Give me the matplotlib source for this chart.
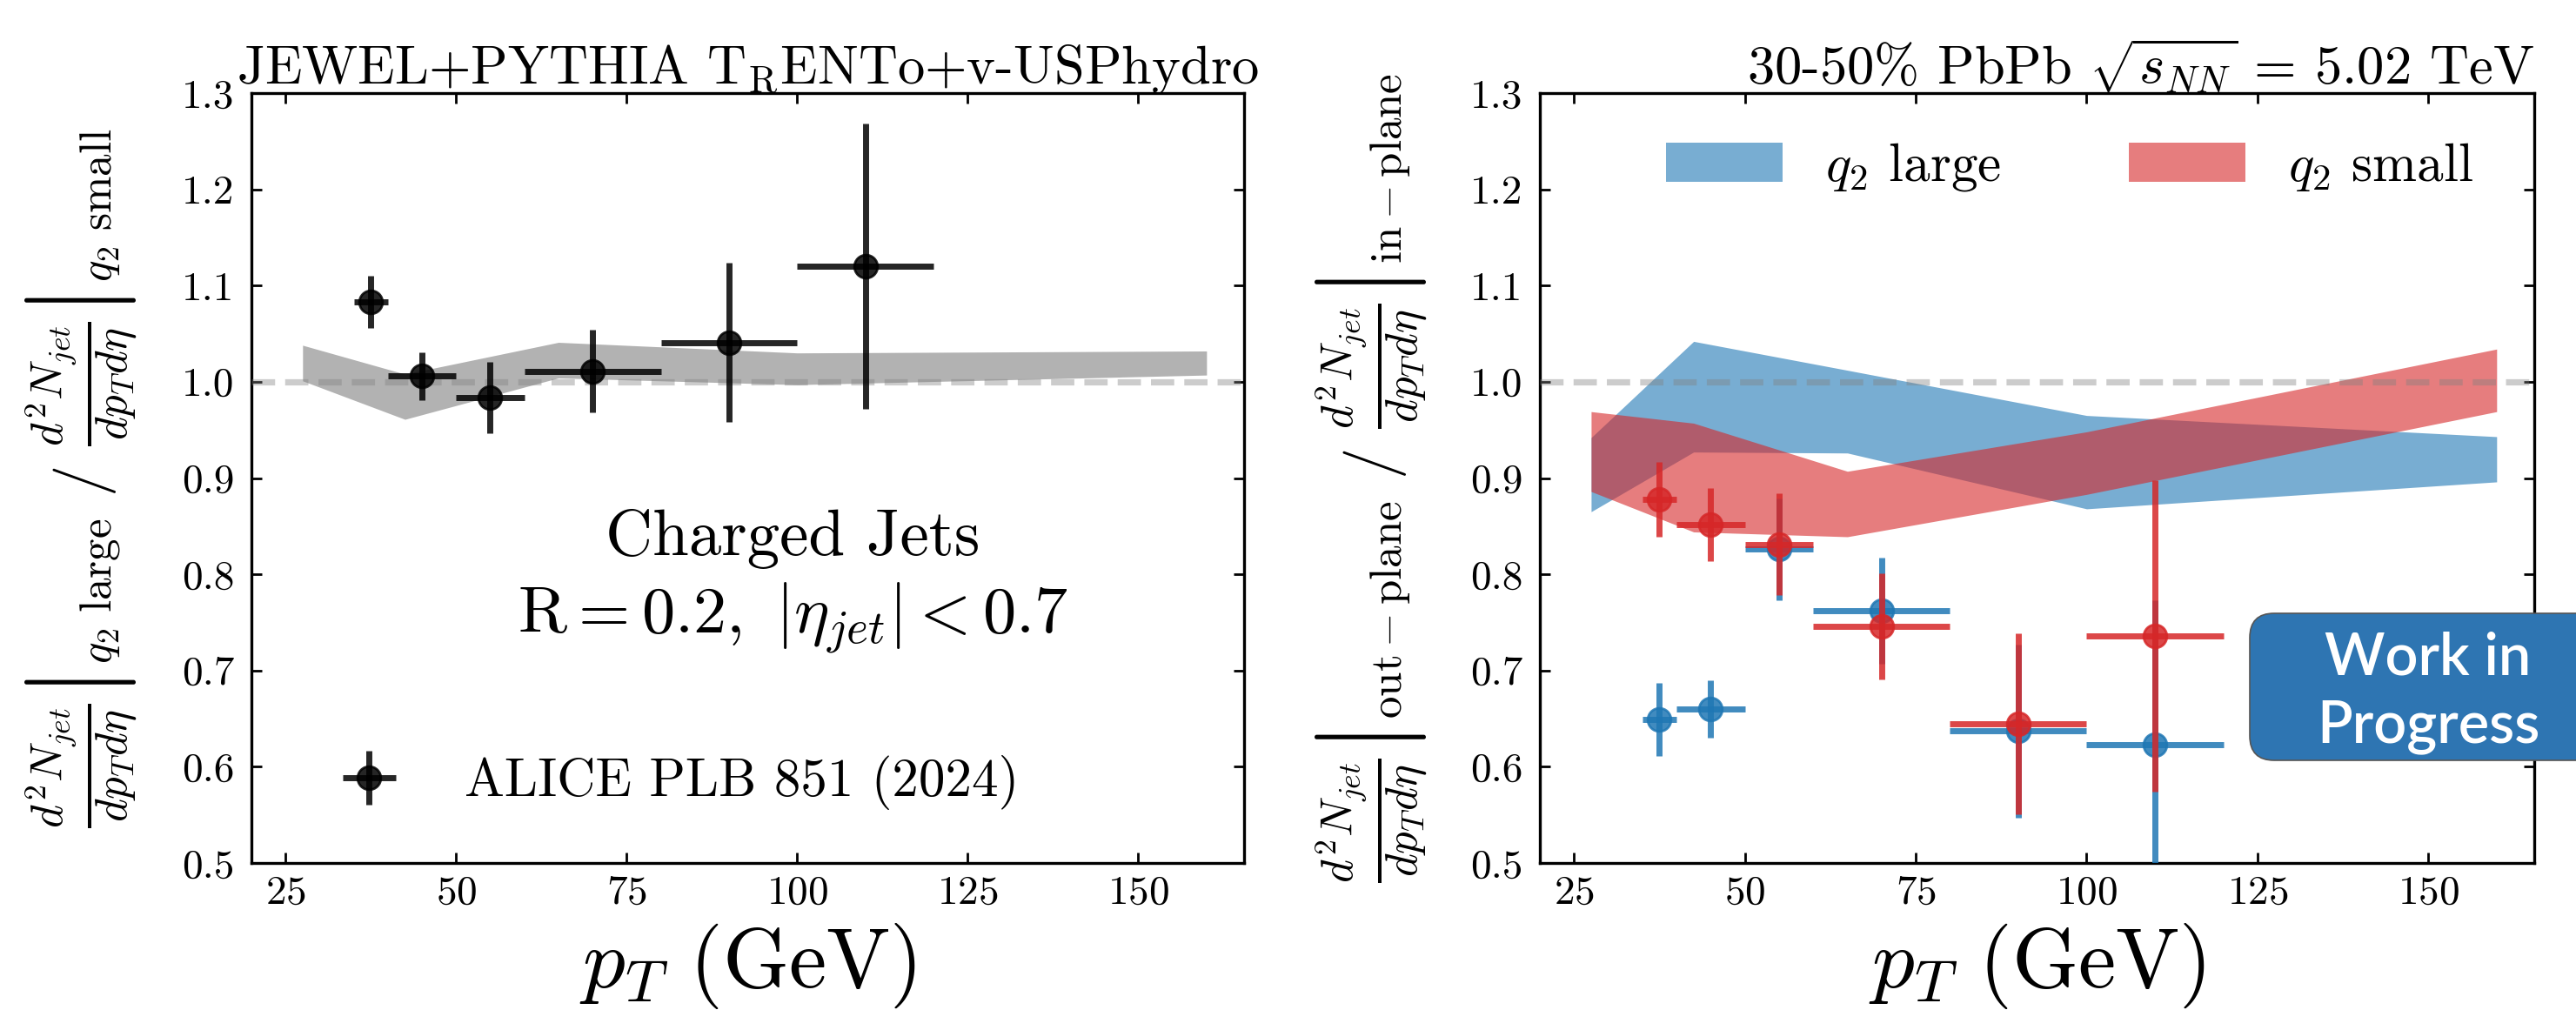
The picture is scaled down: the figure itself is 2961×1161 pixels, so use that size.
import matplotlib
matplotlib.use("Agg")
import matplotlib.pyplot as plt
import numpy as np
from matplotlib.patches import FancyBboxPatch
from matplotlib.transforms import IdentityTransform

plt.rcParams['font.family'] = 'serif'
plt.rcParams['font.serif'] = ['cmr10']
plt.rcParams['mathtext.fontset'] = 'cm'
plt.rcParams['axes.formatter.use_mathtext'] = True
plt.rcParams['axes.unicode_minus'] = False

# ---------------- data ----------------
# experimental bins (pT centres and half widths)
pt_data = [37.5, 45, 55, 70, 90, 110]
pt_halfwidth = [2.5, 5, 5, 10, 10, 10]

# left panel: ALICE ratio q2 large / q2 small
alice_ratio = [1.083, 1.006, 0.984, 1.011, 1.041, 1.120]
alice_ratio_err = [0.027, 0.025, 0.037, 0.043, 0.083, 0.148]

# model bins (JEWEL)
pt_model = [27.5, 42.5, 65, 100, 160]
model_ratio_low = [1.001, 0.961, 1.004, 0.997, 1.007]
model_ratio_high = [1.038, 1.008, 1.041, 1.030, 1.032]

# right panel: out-plane / in-plane
q2large_low = [0.865, 0.927, 0.926, 0.868, 0.896]
q2large_high = [0.942, 1.042, 1.012, 0.965, 0.943]
q2small_low = [0.886, 0.844, 0.839, 0.883, 0.969]
q2small_high = [0.969, 0.957, 0.907, 0.948, 1.034]

alice_large = [0.649, 0.660, 0.826, 0.762, 0.637, 0.623]
alice_large_err = [0.038, 0.030, 0.053, 0.055, 0.090, 0.150]
alice_small = [0.878, 0.852, 0.831, 0.746, 0.645, 0.736]
alice_small_err = [0.039, 0.038, 0.053, 0.055, 0.094, 0.162]

xticks = [25, 50, 75, 100, 125, 150]
yticks = [0.5, 0.6, 0.7, 0.8, 0.9, 1.0, 1.1, 1.2, 1.3]

BLUE = '#1f77b4'
RED = '#d62728'

W, H = 2961, 1161
DPI = 200
fig = plt.figure(figsize=(W / DPI, H / DPI), dpi=DPI)

top_px, bot_px = 107, 992
ax1 = fig.add_axes([289 / W, 1 - bot_px / H, (1430 - 289) / W, (bot_px - top_px) / H])
ax2 = fig.add_axes([1770 / W, 1 - bot_px / H, (2913 - 1770) / W, (bot_px - top_px) / H])

tick_fs = 17
for ax in (ax1, ax2):
    ax.set_xlim(20, 165.5)
    ax.set_ylim(0.5, 1.3)
    ax.set_xticks(xticks)
    ax.set_yticks(yticks)
    ax.set_yticklabels([f'{v:.1f}' for v in yticks])
    ax.tick_params(direction='in', top=True, right=True, length=4.3, width=1.0,
                   labelsize=tick_fs)
    ax.tick_params(axis='y', pad=7)
    ax.tick_params(axis='x', pad=5)
    for s in ax.spines.values():
        s.set_linewidth(1.2)
    ax.axhline(1.0, color='gray', alpha=0.4, lw=2.6, ls='--', zorder=3)
    ax.set_xlabel(r'$p_T\ \mathrm{(GeV)}$', fontsize=35, labelpad=4)

# ---- left panel ----
ax1.fill_between(pt_model, model_ratio_low, model_ratio_high, color='gray', alpha=0.6, lw=0, zorder=2)
eb = ax1.errorbar(pt_data, alice_ratio, xerr=pt_halfwidth, yerr=alice_ratio_err, fmt='o',
                  color='black', alpha=0.85, ms=9.6, elinewidth=2.5, capsize=0, zorder=4,
                  label='ALICE PLB 851 (2024)')
ax1.legend(handles=[eb], loc='lower left', bbox_to_anchor=(0.0167, 0.0064), frameon=False,
           fontsize=22)
ax1.text(99.4, 0.820, 'Charged Jets', ha='center', va='baseline', fontsize=27)
ax1.text(99.4, 0.739, r'$\mathrm{R} = 0.2,\ |\eta_{jet}| < 0.7$', ha='center', va='baseline', fontsize=27.5)
ax1.set_title(r'JEWEL+PYTHIA T$_\mathrm{R}$ENTo+v-USPhydro', fontsize=22.5, pad=4)
ax1.set_ylabel(r'$\left.\frac{d^2N_{jet}}{dp_Td\eta}\right|_{q_2\ \mathrm{large}}\ /\ '
               r'\left.\frac{d^2N_{jet}}{dp_Td\eta}\right|_{q_2\ \mathrm{small}}$', fontsize=26.2)
ax1.yaxis.set_label_coords(-0.113, 0.5)

# ---- right panel ----
ax2.fill_between(pt_model, q2large_low, q2large_high, color=BLUE, alpha=0.6, lw=0, zorder=2,
                 label=r'$q_2$ large')
ax2.fill_between(pt_model, q2small_low, q2small_high, color=RED, alpha=0.6, lw=0, zorder=2,
                 label=r'$q_2$ small')
ax2.errorbar(pt_data, alice_large, xerr=pt_halfwidth, yerr=alice_large_err, fmt='o',
             color=BLUE, alpha=0.85, ms=9.6, elinewidth=2.5, capsize=0, zorder=4)
ax2.errorbar(pt_data, alice_small, xerr=pt_halfwidth, yerr=alice_small_err, fmt='o',
             color=RED, alpha=0.85, ms=9.6, elinewidth=2.5, capsize=0, zorder=5)
ax2.legend(loc='upper right', bbox_to_anchor=(0.987, 1.0), ncol=2, frameon=False, fontsize=22,
           handlelength=2.2, handleheight=0.77, columnspacing=2.4)
ax2.set_title(r'30-50% PbPb $\sqrt{s_{NN}}$ = 5.02 TeV', fontsize=22.5, loc='right', pad=4)
ax2.set_ylabel(r'$\left.\frac{d^2N_{jet}}{dp_Td\eta}\right|_{\mathrm{out-plane}}\ /\ '
               r'\left.\frac{d^2N_{jet}}{dp_Td\eta}\right|_{\mathrm{in-plane}}$', fontsize=26.2)
ax2.yaxis.set_label_coords(-0.111, 0.5)

# ---- Work in Progress badge ----
box = FancyBboxPatch((2586, H - 874), 500, 169, boxstyle='round,pad=0,rounding_size=28',
                     transform=IdentityTransform(), facecolor='#2E75B2', edgecolor='#555555',
                     lw=0.6, clip_on=False, zorder=10)
fig.add_artist(box)
fig.text(2791 / W, 1 - 775 / H, 'Work in', color='white', fontsize=24, family='Lato',
         weight='semibold', ha='center', va='baseline', zorder=11)
fig.text(2791 / W, 1 - 853 / H, 'Progress', color='white', fontsize=24, family='Lato',
         weight='semibold', ha='center', va='baseline', zorder=11)

fig.savefig('out.png', dpi=DPI)
